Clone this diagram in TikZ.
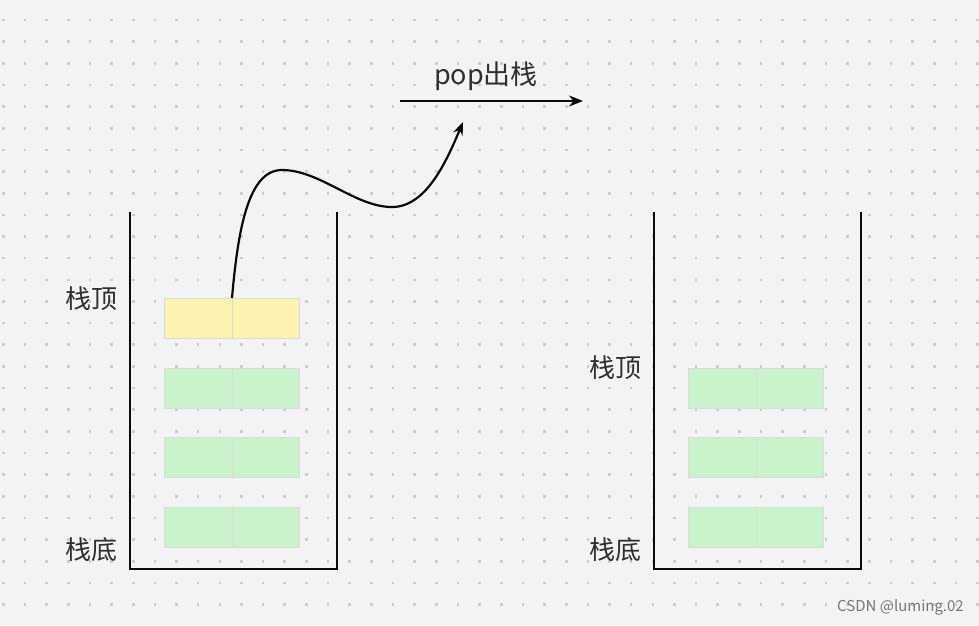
\documentclass[tikz,border=0pt]{standalone}
\usepackage{fontspec}
\usepackage{xcolor}
\usepackage{tikz}
\usetikzlibrary{arrows.meta,positioning}
\newfontfamily\cjk{Noto Sans CJK SC}
\definecolor{paper}{RGB}{243,243,245}
\definecolor{griddot}{RGB}{204,204,208}
\definecolor{popyellow}{RGB}{252,243,176}
\definecolor{stackgreen}{RGB}{201,243,205}
\definecolor{cellgray}{RGB}{218,218,214}
\definecolor{ink}{RGB}{10,10,10}
\definecolor{markgray}{RGB}{120,120,120}

\begin{document}
\begin{tikzpicture}[x=1pt,y=-1pt,
    cell/.style={draw=cellgray,line width=1pt,minimum width=67.5pt,minimum height=40pt,inner sep=0pt,outer sep=0pt},
    lbl/.style={font=\cjk\fontsize{26}{30}\selectfont,text=ink!85,inner sep=0pt}]
  \useasboundingbox[fill=paper] (0,0) rectangle (979,625);
  % dot grid
  \foreach \i in {0,...,45} {
    \foreach \j in {0,...,27} {
      \fill[griddot] (3.3+21.65*\i-1.3,20+21.65*\j-1.3) rectangle ++(2.6,2.6);
    }
  }
  % the two stacks
  \draw[line width=2.2pt,color=ink] (130,212) -- (130,569) -- (337,569) -- (337,212);
  \draw[line width=2.2pt,color=ink] (654,212) -- (654,569) -- (861,569) -- (861,212);

  % left stack: top element (yellow) and three green ones
  \node[cell,fill=popyellow,anchor=north west] (topL) at (164.5,298) {};
  \node[cell,fill=popyellow,right=0pt of topL] (topR) {};
  \foreach \n/\y in {a/368,b/437.5,c/507} {
    \node[cell,fill=stackgreen,anchor=north west] (l\n L) at (164.5,\y) {};
    \node[cell,fill=stackgreen,right=0pt of l\n L] (l\n R) {};
  }
  % right stack after pop
  \foreach \n/\y in {a/368,b/437.5,c/507} {
    \node[cell,fill=stackgreen,anchor=north west] (r\n L) at (688.5,\y) {};
    \node[cell,fill=stackgreen,right=0pt of r\n L] (r\n R) {};
  }

  \node[lbl] (lefttop) at (91,299) {栈顶};
  \node[lbl] (leftbottom) at (91,550) {栈底};
  \node[lbl] (righttop) at (615,368) {栈顶};
  \node[lbl] (rightbottom) at (615,550) {栈底};

  % pop arrow
  \coordinate (popfrom) at (400,101);
  \coordinate (popto) at (583,101);
  \draw[-{Stealth[length=14pt,width=11pt]},line width=1.8pt,color=ink] (popfrom) -- (popto);
  \node[lbl,font=\cjk\fontsize{27}{31}\selectfont] (poptext) at (486,76) {pop出栈};

  \coordinate (popend) at (463,122);
  \draw[-{Stealth[length=13pt,width=10pt]},line width=2.2pt,color=ink]
    (topL.north east) .. controls (238,230) and (248,170) .. (282,170)
    .. controls (320,170) and (355,207) .. (392,207)
    .. controls (425,207) and (445,165) .. (popend);

  \node[font=\cjk\fontsize{15}{18}\selectfont,text=markgray,anchor=east,inner sep=0pt] (mark) at (964,607) {CSDN @luming.02};
\end{tikzpicture}
\end{document}
